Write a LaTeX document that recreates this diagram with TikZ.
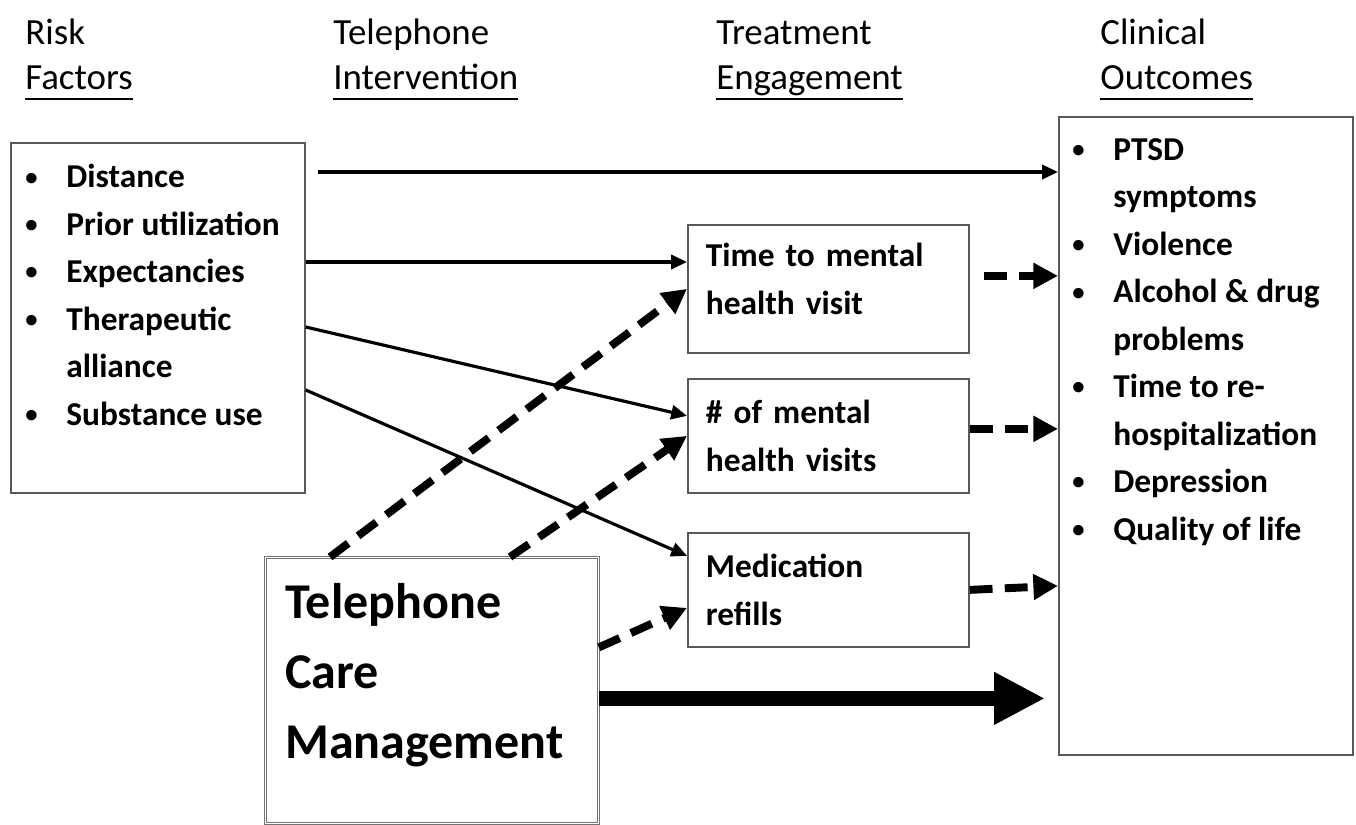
\documentclass[tikz,border=0pt]{standalone}
\usepackage{fontspec}
\setmainfont{Carlito}
\usetikzlibrary{arrows.meta,calc,positioning}

% underline at a fixed depth below the baseline
\newcommand{\hdrline}[1]{\setbox0\hbox{#1}\rlap{\rule[-6pt]{\wd0}{1.1pt}}\box0}
% bullet item and continuation line
\newcommand{\itm}{\makebox[0.82cm][l]{\raisebox{1.6pt}{\fontsize{14}{14}\selectfont\textbullet}}}
\newcommand{\cnt}{\hspace*{0.82cm}}

\tikzset{
  box/.style={draw=black!65, line width=1pt, anchor=north west, inner sep=0pt},
  hdr/.style={font=\fontsize{21}{25.5}\selectfont, align=left, anchor=base west, inner sep=0pt},
  items/.style={font=\fontsize{19}{27}\selectfont\bfseries, align=left, anchor=base west, inner sep=0pt},
  midbox/.style={box, minimum width=5.62cm, text width=4.9cm, inner xsep=0.36cm, align=left,
    font=\fontsize{19}{27}\selectfont\bfseries},
  link/.style={line width=1.8pt, -{Triangle[length=9pt,width=8pt]}},
  dlink/.style={line width=4.5pt, dash pattern=on 13pt off 7pt, -{Triangle[length=14pt,width=14pt]}},
  biglink/.style={line width=8.5pt, -{Triangle[length=29pt,width=28pt]}},
}

\begin{document}
\begin{tikzpicture}[x=0.02cm, y=-0.02cm]
\useasboundingbox (0,0) rectangle (1356,825);

% column headings (base = last line)
\node[hdr] (riskhead) at (25,89) {Risk\\\hdrline{Factors}};
\node[hdr] (telhead) at (333,89) {Telephone\\\hdrline{Intervention}};
\node[hdr] (trthead) at (716,89) {Treatment\\\hdrline{Engagement}};
\node[hdr] (clinhead) at (1100,89) {Clinical\\\hdrline{Outcomes}};

% outer boxes
\node[box, minimum width=5.88cm, minimum height=7cm] (risk) at (10,142) {};
\node[items] (risklist) at ($(risk.north west)+(15,283)$)
  {\itm Distance\\\itm Prior utilization\\\itm Expectancies\\\itm Therapeutic\\\cnt alliance\\\itm Substance use};

\node[box, minimum width=5.88cm, minimum height=12.76cm] (outcomes) at (1058,116) {};
\node[items] (outlist) at ($(outcomes.north west)+(14,424)$)
  {\itm PTSD\\\cnt symptoms\\\itm Violence\\\itm Alcohol \& drug\\\cnt problems\\\itm Time to re-\\\cnt hospitalization\\\itm Depression\\\itm Quality of life};

% engagement boxes
\node[midbox, minimum height=2.56cm] (time) at (687,224) {Time to mental\\health visit\\[-0.55cm]\mbox{}};
\node[midbox, minimum height=2.28cm] (visits) at (687,378) {\# of mental\\health visits};
\node[midbox, minimum height=2.28cm] (refills) at (687,532) {Medication\\refills};

% intervention
\node[box, draw=black!55, line width=0.5pt, double, double distance=0.7pt,
  minimum width=6.66cm, minimum height=5.32cm] (tcm) at (265,557) {};
\node[items, font=\fontsize{28.5}{39.7}\selectfont\bfseries] (tcmtext) at ($(tcm.north west)+(20,201)$)
  {Telephone\\Care\\Management};

% risk factor paths
\coordinate (rDist) at ($(risk.north east)+(12,30)$);
\coordinate (rExp) at ($(risk.north east)+(0,120)$);
\draw[link] (rDist) -- (rDist -| outcomes.west);
\draw[link] (rExp) -- (rExp -| time.west);
\draw[link] ($(risk.north east)+(0,185)$) -- ($(visits.west)+(0,-20)$);
\draw[link] ($(risk.north east)+(0,248)$) -- ($(refills.west)+(0,-34)$);

% intervention paths
\draw[dlink] ($(tcm.north west)+(65,0)$) -- (time.west);
\draw[dlink] ($(tcm.north west)+(245,0)$) -- (visits.west);
\draw[dlink] ($(tcm.east)+(0,-43)$) -- ($(refills.west)+(0,18)$);
\draw[biglink] ($(tcm.east)+(0,8)$) -- ($(tcm.east -| outcomes.west)+(-13,8)$);

% engagement to outcomes
\draw[dlink] ($(time.east)+(14,-13)$) -- ($(time.east -| outcomes.west)+(0,-13)$);
\draw[dlink] ($(visits.east)+(0,-7)$) -- ($(visits.east -| outcomes.west)+(0,-7)$);
\draw[dlink] (refills.east) -- ($(refills.east -| outcomes.west)+(0,-4)$);
\end{tikzpicture}
\end{document}
